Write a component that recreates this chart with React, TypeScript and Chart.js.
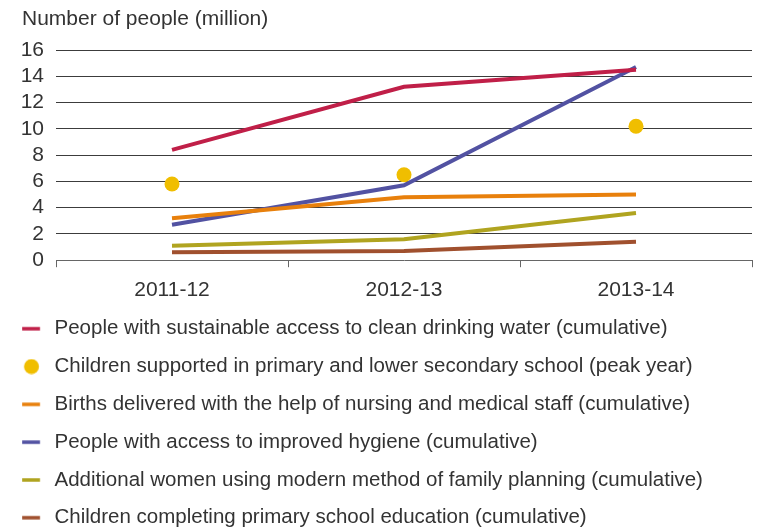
import React, { useEffect, useRef } from 'react';
import { Chart, registerables } from 'chart.js';

Chart.register(...registerables);

// ---- data ----
const categories = ['2011-12', '2012-13', '2013-14'];
const cleanWater = [8.4, 13.2, 14.5];
const childrenSupported = [5.8, 6.5, 10.2];
const birthsAssisted = [3.2, 4.8, 5.0];
const improvedHygiene = [2.7, 5.7, 14.7];
const familyPlanning = [1.1, 1.6, 3.6];
const primaryCompleted = [0.6, 0.7, 1.4];

const seriesLabels = [
  'People with sustainable access to clean drinking water (cumulative)',
  'Children supported in primary and lower secondary school (peak year)',
  'Births delivered with the help of nursing and medical staff (cumulative)',
  'People with access to improved hygiene (cumulative)',
  'Additional women using modern method of family planning (cumulative)',
  'Children completing primary school education (cumulative)',
];
const seriesColors = ['#c01f48', '#f0be00', '#e8800c', '#5252a2', '#b0a420', '#a0502e'];
const seriesIsDot = [false, true, false, false, false, false];

const yTitle = 'Number of people (million)';
const yMin = 0;
const yMax = 16;
const yStep = 2;

const FONT = "'Liberation Sans', Arial, sans-serif";
const TEXT = '#333333';

function makeMarker(color: string, dot: boolean): HTMLCanvasElement {
  const c = document.createElement('canvas');
  c.width = 40;
  c.height = 16;
  const g = c.getContext('2d')!;
  g.fillStyle = color;
  if (dot) {
    g.beginPath();
    g.arc(9.7, 8, 7.5, 0, Math.PI * 2);
    g.fill();
  } else {
    g.fillRect(0.2, 6.25, 18, 3.5);
  }
  return c;
}

export default function App() {
  const ref = useRef<HTMLCanvasElement | null>(null);

  useEffect(() => {
    if (!ref.current) return;
    const values = [cleanWater, childrenSupported, birthsAssisted, improvedHygiene, familyPlanning, primaryCompleted];
    const markers = seriesColors.map((c, i) => makeMarker(c, seriesIsDot[i]));

    const datasets = values.map((v, i) => ({
      label: seriesLabels[i],
      data: v,
      borderColor: seriesColors[i],
      backgroundColor: seriesColors[i],
      borderWidth: 4,
      showLine: !seriesIsDot[i],
      pointRadius: seriesIsDot[i] ? 7.5 : 0,
      pointHoverRadius: seriesIsDot[i] ? 7.5 : 0,
      pointBorderWidth: 0,
      pointBackgroundColor: seriesColors[i],
      tension: 0,
    }));

    const chart = new Chart(ref.current, {
      type: 'line',
      data: { labels: categories, datasets },
      options: {
        animation: false,
        responsive: false,
        maintainAspectRatio: false,
        devicePixelRatio: 1,
        layout: { padding: { left: 22, right: 10, top: 0, bottom: 0 } },
        font: { family: FONT },
        plugins: {
          tooltip: { enabled: false },
          title: {
            display: true,
            text: yTitle,
            align: 'start',
            color: TEXT,
            font: { family: FONT, size: 21, weight: 'normal' },
            padding: { top: 6.4, bottom: 18.4 },
          },
          legend: {
            display: true,
            position: 'bottom',
            align: 'start',
            labels: {
              usePointStyle: true,
              pointStyleWidth: 5,
              padding: 17.3,
              color: TEXT,
              font: { family: FONT, size: 20.5 },
              generateLabels: () =>
                seriesLabels.map((t, i) => ({
                  text: t,
                  fillStyle: seriesColors[i],
                  strokeStyle: seriesColors[i],
                  lineWidth: 0,
                  pointStyle: markers[i] as any,
                  hidden: false,
                  datasetIndex: i,
                  fontColor: TEXT,
                })),
            },
          },
        },
        scales: {
          x: {
            type: 'category',
            offset: true,
            grid: {
              offset: true,
              drawOnChartArea: false,
              drawTicks: true,
              tickLength: 7,
              color: '#666666',
              lineWidth: 1,
            },
            border: { display: true, color: '#666666', width: 1 },
            ticks: {
              color: TEXT,
              font: { family: FONT, size: 21 },
              padding: 10.2,
              maxRotation: 0,
              autoSkip: false,
            },
            afterFit: (s: any) => {
              s.height = 41;
            },
          },
          y: {
            min: yMin,
            max: yMax,
            grid: {
              drawTicks: false,
              color: (ctx: any) => (ctx.tick && ctx.tick.value === 0 ? 'rgba(0,0,0,0)' : '#3c3c3c'),
              lineWidth: 1,
            },
            border: { display: false },
            ticks: {
              stepSize: yStep,
              autoSkip: false,
              color: TEXT,
              font: { family: FONT, size: 21 },
              padding: 12,
            },
            afterFit: (s: any) => {
              s.width = 34;
            },
          },
        },
      },
    });
    return () => chart.destroy();
  }, []);

  return (
    <div style={{ position: 'absolute', left: 0, top: 0, width: 762, height: 529, overflow: 'hidden', background: '#fff' }}>
      <canvas ref={ref} width={762} height={538} style={{ display: 'block', width: 762, height: 538 }} />
    </div>
  );
}
